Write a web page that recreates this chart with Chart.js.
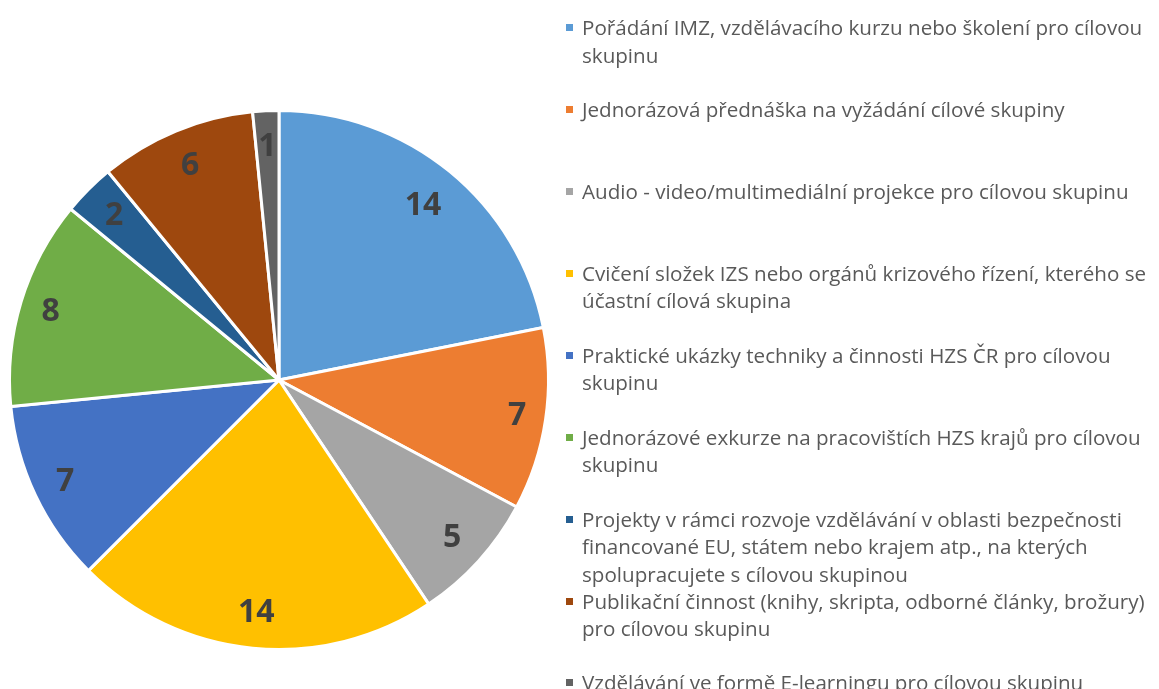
<!DOCTYPE html>
<html>
<head>
<meta charset="utf-8">
<script src="https://cdn.jsdelivr.net/npm/chart.js@4.4.1/dist/chart.umd.min.js"></script>
<style>
  html, body { margin: 0; padding: 0; background: #fff; }
  #wrap { position: relative; width: 1159px; height: 689px; overflow: hidden; }
  #c { position: absolute; left: 0; top: 0; }
  #legend { position: absolute; left: 0; top: 0; width: 1159px; height: 689px; pointer-events: none;
    font-family: "Open Sans", sans-serif; font-size: 20.6px; color: #595959; }
  .item { position: absolute; left: 582px; line-height: 27.5px; white-space: nowrap; }
  .sw { position: absolute; left: -16px; width: 7px; height: 7px; }
</style>
</head>
<body>
<div id="wrap">
  <canvas id="c" width="1159" height="689"></canvas>
  <div id="legend"></div>
</div>
<script>
const categories = [
  ["Pořádání IMZ, vzdělávacího kurzu nebo školení pro cílovou", "skupinu"],
  ["Jednorázová přednáška na vyžádání cílové skupiny"],
  ["Audio - video/multimediální projekce pro cílovou skupinu"],
  ["Cvičení složek IZS nebo orgánů krizového řízení, kterého se", "účastní cílová skupina"],
  ["Praktické ukázky techniky a činnosti HZS ČR pro cílovou", "skupinu"],
  ["Jednorázové exkurze na pracovištích HZS krajů pro cílovou", "skupinu"],
  ["Projekty v rámci rozvoje vzdělávání v oblasti bezpečnosti", "financované EU, státem nebo krajem atp., na kterých", "spolupracujete s cílovou skupinou"],
  ["Publikační činnost (knihy, skripta, odborné články, brožury)", "pro cílovou skupinu"],
  ["Vzdělávání ve formě E-learningu pro cílovou skupinu"]
];
const values = [14, 7, 5, 14, 7, 8, 2, 6, 1];
const colors = ["#5B9BD5", "#ED7D31", "#A5A5A5", "#FFC000", "#4472C4", "#70AD47", "#255E91", "#9E480E", "#636363"];

const insideEndLabels = {
  id: 'insideEndLabels',
  afterDatasetsDraw(chart) {
    const ctx = chart.ctx;
    const meta = chart.getDatasetMeta(0);
    ctx.save();
    ctx.font = 'bold 32px "Open Sans", sans-serif';
    ctx.fillStyle = '#404040';
    ctx.textAlign = 'center';
    ctx.textBaseline = 'middle';
    meta.data.forEach((arc, i) => {
      const p = arc.getProps(['x', 'y', 'startAngle', 'endAngle', 'outerRadius'], true);
      const mid = (p.startAngle + p.endAngle) / 2;
      const txt = String(values[i]);
      const w = ctx.measureText(txt).width / 2;
      const h = 18;
      const s = Math.abs(Math.cos(mid)), c = Math.abs(Math.sin(mid));
      const d = p.outerRadius - 17 - (w * s + h * c);
      ctx.fillText(txt, p.x + Math.cos(mid) * d, p.y + Math.sin(mid) * d + 1);
    });
    ctx.restore();
  }
};

new Chart(document.getElementById('c'), {
  type: 'pie',
  data: {
    labels: categories,
    datasets: [{
      data: values,
      backgroundColor: colors,
      borderColor: '#ffffff',
      borderWidth: 3
    }]
  },
  options: {
    responsive: false,
    animation: false,
    layout: { padding: { left: 8, right: 609, top: 109, bottom: 38 } },
    plugins: { legend: { display: false }, tooltip: { enabled: false } }
  },
  plugins: [insideEndLabels]
});

const legend = document.getElementById('legend');
categories.forEach((lines, i) => {
  const center = 28 + i * 81.9;
  const div = document.createElement('div');
  div.className = 'item';
  div.style.top = (center - 13.75) + 'px';
  div.innerHTML = lines.map(l => l.replace(/&/g, '&amp;')).join('<br>');
  const sw = document.createElement('span');
  sw.className = 'sw';
  sw.style.background = colors[i];
  sw.style.top = '10px';
  div.appendChild(sw);
  legend.appendChild(div);
});
</script>
</body>
</html>
